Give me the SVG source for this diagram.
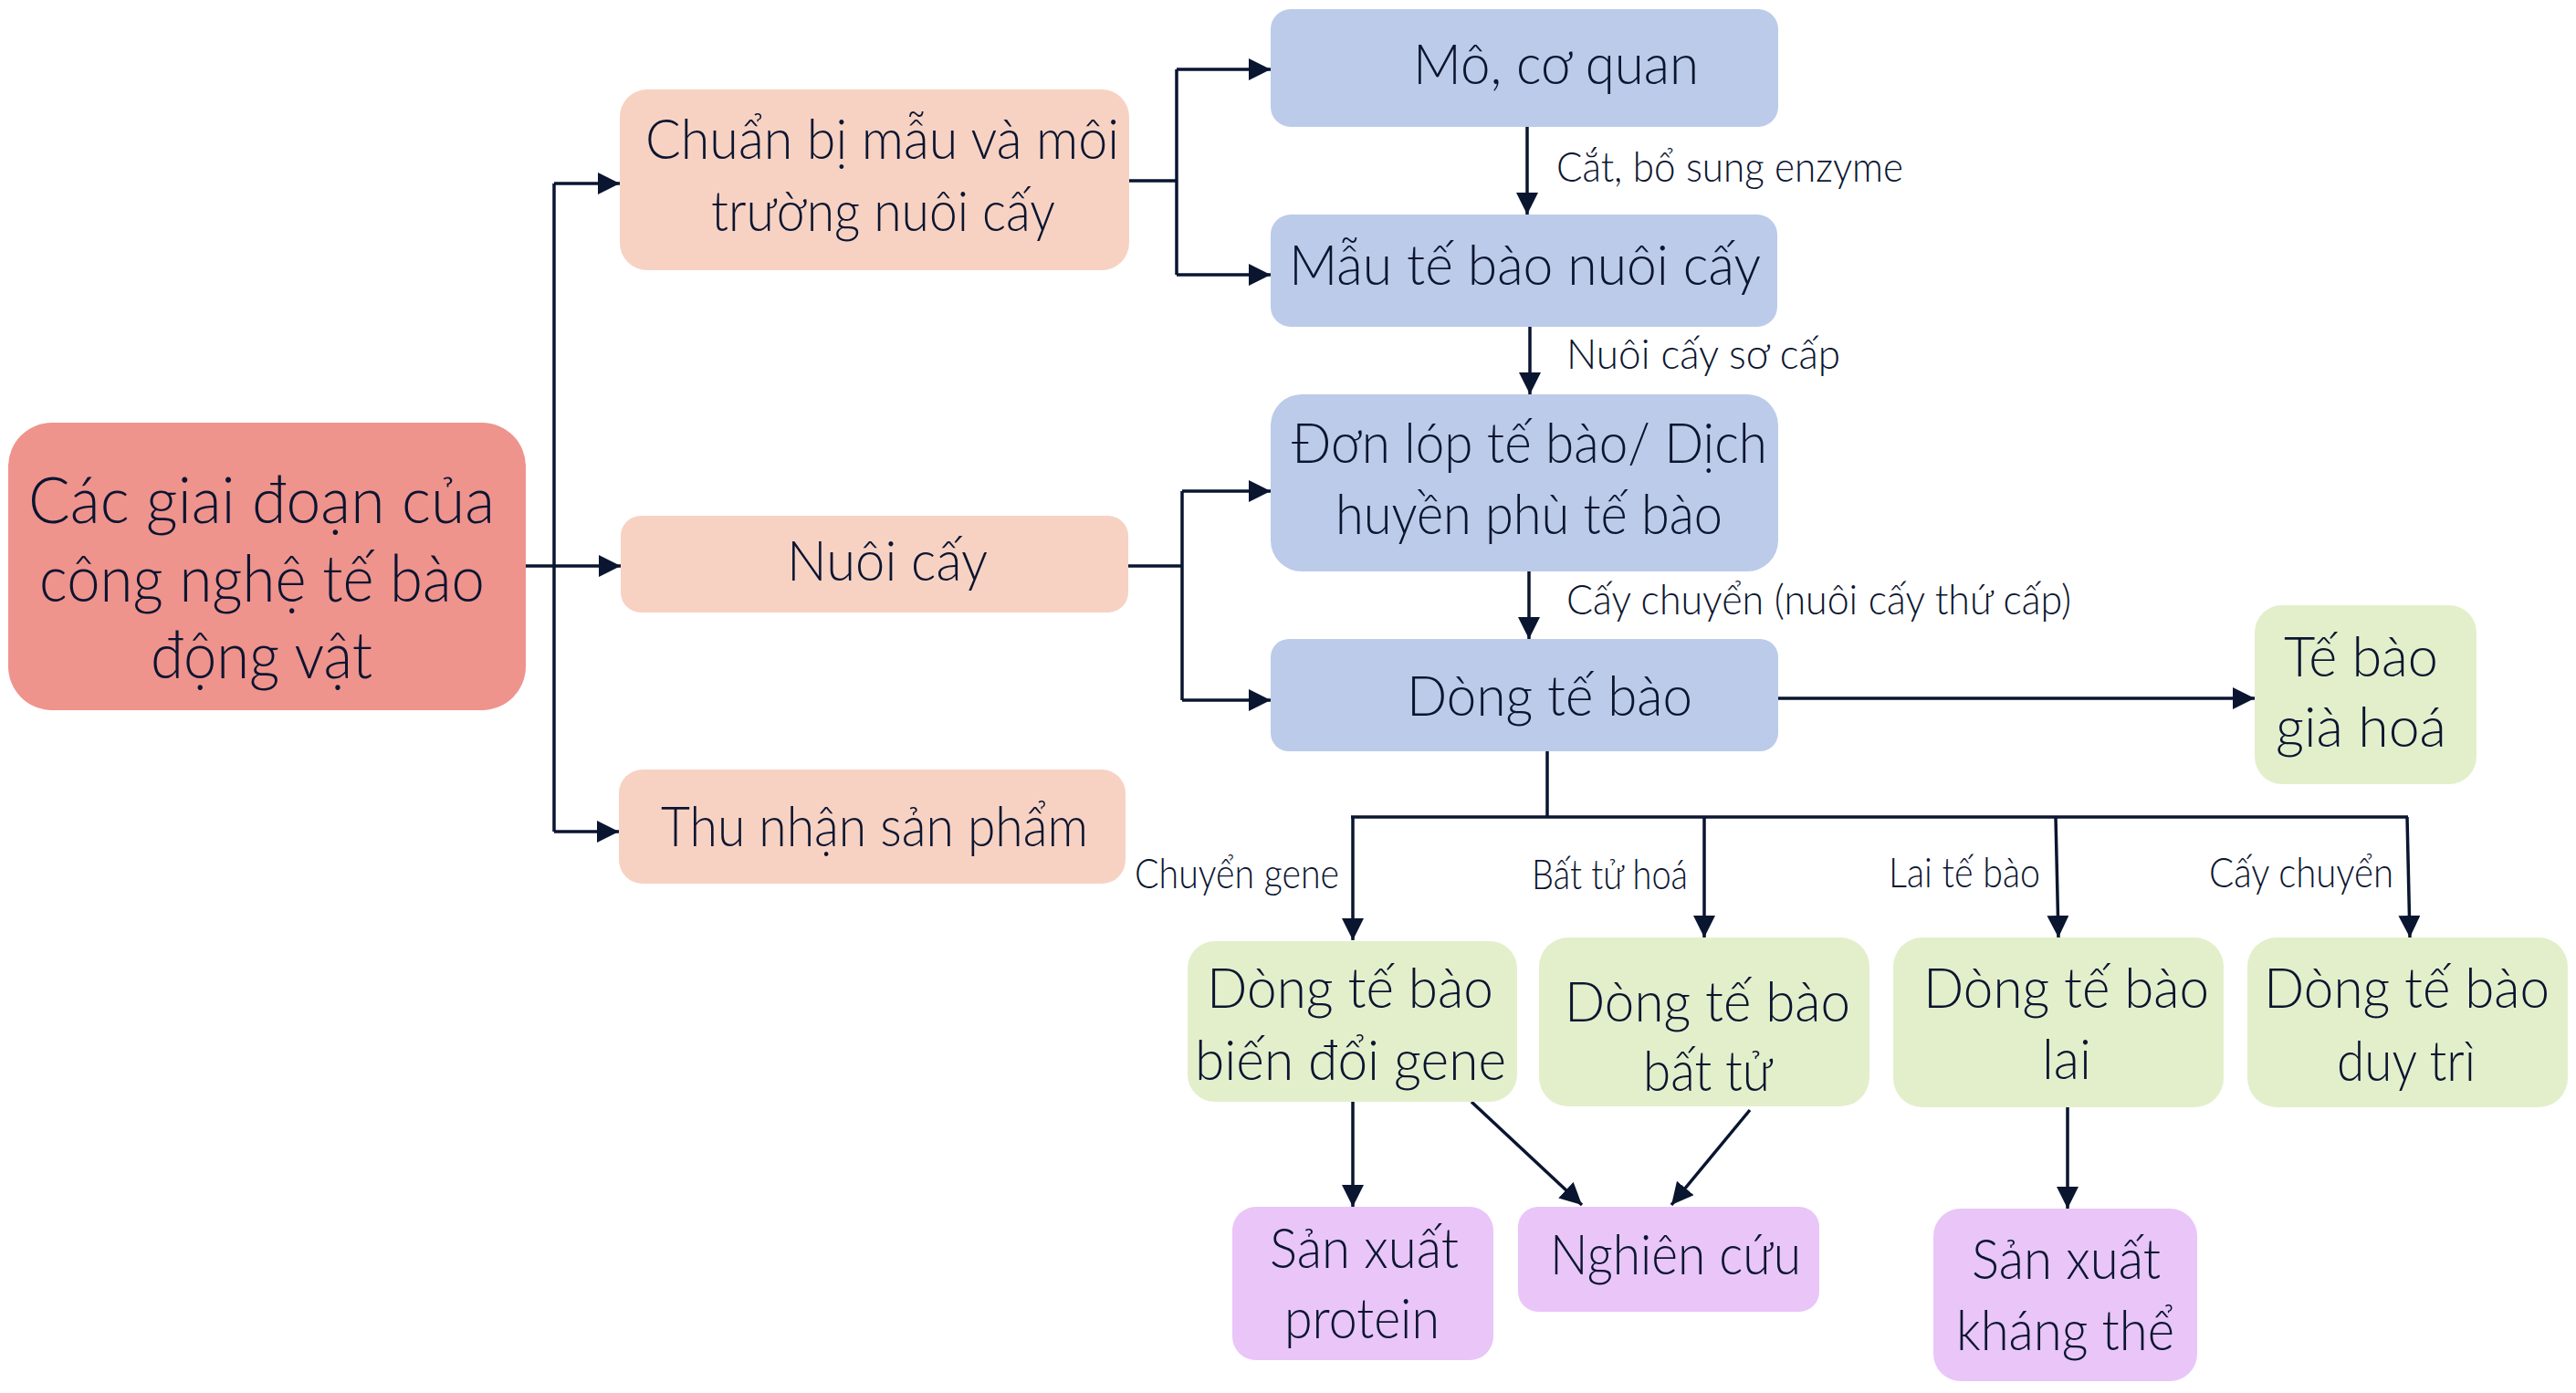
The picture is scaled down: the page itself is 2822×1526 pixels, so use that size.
<svg xmlns="http://www.w3.org/2000/svg" width="2822" height="1526" viewBox="0 0 2822 1526">
<defs>
<style>
text{font-family:Lato,"Liberation Sans","Noto Sans",sans-serif;fill:#0B1530;font-weight:300;}
.t{font-size:62px;}
.tm{font-size:70px;}
.lb{font-size:46px;}
.main{fill:#EF938D;}
.pk{fill:#F7D2C3;}
.bl{fill:#BBCBE9;}
.gr{fill:#E3EFCB;}
.pu{fill:#E9C5F8;}
.c line,.c path{stroke:#0A1530;stroke-width:3.5;fill:none;}
</style>
<marker id="ah" markerUnits="userSpaceOnUse" markerWidth="26" markerHeight="26" refX="24" refY="12" orient="auto">
<path d="M0,0 L24,12 L0,24 z" fill="#0A1530"/>
</marker>
</defs>
<rect width="2822" height="1526" fill="#FFFFFF"/>
<g class="c">
<line x1="576" y1="620" x2="680" y2="620" marker-end="url(#ah)"/>
<path d="M607,201 V911"/>
<line x1="607" y1="201" x2="679" y2="201" marker-end="url(#ah)"/>
<line x1="607" y1="911" x2="678" y2="911" marker-end="url(#ah)"/>
<path d="M1237,198 H1289"/>
<path d="M1289,76 V301"/>
<line x1="1289" y1="76" x2="1392" y2="76" marker-end="url(#ah)"/>
<line x1="1289" y1="301" x2="1392" y2="301" marker-end="url(#ah)"/>
<path d="M1236,620 H1295"/>
<path d="M1295,538 V767"/>
<line x1="1295" y1="538" x2="1392" y2="538" marker-end="url(#ah)"/>
<line x1="1295" y1="767" x2="1392" y2="767" marker-end="url(#ah)"/>
<line x1="1673" y1="139" x2="1673" y2="235" marker-end="url(#ah)"/>
<line x1="1676" y1="358" x2="1676" y2="432" marker-end="url(#ah)"/>
<line x1="1675" y1="626" x2="1675" y2="700" marker-end="url(#ah)"/>
<line x1="1948" y1="765" x2="2470" y2="765" marker-end="url(#ah)"/>
<path d="M1695,823 V895"/>
<path d="M1480,895 H2638"/>
<line x1="1482" y1="895" x2="1482" y2="1030" marker-end="url(#ah)"/>
<line x1="1867" y1="895" x2="1867" y2="1027" marker-end="url(#ah)"/>
<line x1="2252" y1="895" x2="2255" y2="1027" marker-end="url(#ah)"/>
<line x1="2637" y1="895" x2="2640" y2="1027" marker-end="url(#ah)"/>
<line x1="1482" y1="1207" x2="1482" y2="1322" marker-end="url(#ah)"/>
<line x1="1612" y1="1207" x2="1733" y2="1320" marker-end="url(#ah)"/>
<line x1="1917" y1="1216" x2="1831" y2="1320" marker-end="url(#ah)"/>
<line x1="2265" y1="1213" x2="2265" y2="1324" marker-end="url(#ah)"/>
</g>
<g id="labels">
<text class="lb" x="1705" y="199" textLength="380" lengthAdjust="spacingAndGlyphs">Cắt, bổ sung enzyme</text>
<text class="lb" x="1716" y="404" textLength="300" lengthAdjust="spacingAndGlyphs">Nuôi cấy sơ cấp</text>
<text class="lb" x="1716" y="673" textLength="553" lengthAdjust="spacingAndGlyphs">Cấy chuyển (nuôi cấy thứ cấp)</text>
<text class="lb" x="1243" y="973" textLength="224" lengthAdjust="spacingAndGlyphs">Chuyển gene</text>
<text class="lb" x="1678" y="974" textLength="171" lengthAdjust="spacingAndGlyphs">Bất tử hoá</text>
<text class="lb" x="2069" y="972" textLength="166" lengthAdjust="spacingAndGlyphs">Lai tế bào</text>
<text class="lb" x="2420" y="972" textLength="202" lengthAdjust="spacingAndGlyphs">Cấy chuyển</text>
</g>
<g id="n-main">
<rect class="main" x="9" y="463" width="567" height="315" rx="48"/>
<text class="tm" x="31" y="573" textLength="511" lengthAdjust="spacingAndGlyphs">Các giai đoạn của</text>
<text class="tm" x="43" y="659" textLength="488" lengthAdjust="spacingAndGlyphs">công nghệ tế bào</text>
<text class="tm" x="165" y="743" textLength="243" lengthAdjust="spacingAndGlyphs">động vật</text>
</g>
<g id="n-chuanbi">
<rect class="pk" x="679" y="98" width="558" height="198" rx="30"/>
<text class="t" x="707" y="174" textLength="519" lengthAdjust="spacingAndGlyphs">Chuẩn bị mẫu và môi</text>
<text class="t" x="779" y="253" textLength="377" lengthAdjust="spacingAndGlyphs">trường nuôi cấy</text>
</g>
<g id="n-nuoicay">
<rect class="pk" x="680" y="565" width="556" height="106" rx="22"/>
<text class="t" x="862" y="636" textLength="220" lengthAdjust="spacingAndGlyphs">Nuôi cấy</text>
</g>
<g id="n-thunhan">
<rect class="pk" x="678" y="843" width="555" height="125" rx="26"/>
<text class="t" x="724" y="927" textLength="468" lengthAdjust="spacingAndGlyphs">Thu nhận sản phẩm</text>
</g>
<g id="n-mo">
<rect class="bl" x="1392" y="10" width="556" height="129" rx="22"/>
<text class="t" x="1548" y="92" textLength="313" lengthAdjust="spacingAndGlyphs">Mô, cơ quan</text>
</g>
<g id="n-mau">
<rect class="bl" x="1392" y="235" width="555" height="123" rx="22"/>
<text class="t" x="1412" y="312" textLength="517" lengthAdjust="spacingAndGlyphs">Mẫu tế bào nuôi cấy</text>
</g>
<g id="n-donlop">
<rect class="bl" x="1392" y="432" width="556" height="194" rx="34"/>
<text class="t" x="1415" y="507" textLength="521" lengthAdjust="spacingAndGlyphs">Đơn lóp tế bào/ Dịch</text>
<text class="t" x="1463" y="585" textLength="424" lengthAdjust="spacingAndGlyphs">huyền phù tế bào</text>
</g>
<g id="n-dong">
<rect class="bl" x="1392" y="700" width="556" height="123" rx="20"/>
<text class="t" x="1541" y="784" textLength="313" lengthAdjust="spacingAndGlyphs">Dòng tế bào</text>
</g>
<g id="n-giahoa">
<rect class="gr" x="2470" y="663" width="243" height="196" rx="30"/>
<text class="t" x="2502" y="741" textLength="169" lengthAdjust="spacingAndGlyphs">Tế bào</text>
<text class="t" x="2493" y="818" textLength="187" lengthAdjust="spacingAndGlyphs">già hoá</text>
</g>
<g id="n-biendoi">
<rect class="gr" x="1301" y="1031" width="361" height="176" rx="30"/>
<text class="t" x="1322" y="1104" textLength="314" lengthAdjust="spacingAndGlyphs">Dòng tế bào</text>
<text class="t" x="1309" y="1183" textLength="341" lengthAdjust="spacingAndGlyphs">biến đổi gene</text>
</g>
<g id="n-battu">
<rect class="gr" x="1686" y="1027" width="362" height="185" rx="32"/>
<text class="t" x="1714" y="1119" textLength="313" lengthAdjust="spacingAndGlyphs">Dòng tế bào</text>
<text class="t" x="1800" y="1195" textLength="142" lengthAdjust="spacingAndGlyphs">bất tử</text>
</g>
<g id="n-lai">
<rect class="gr" x="2074" y="1027" width="362" height="186" rx="32"/>
<text class="t" x="2107" y="1104" textLength="313" lengthAdjust="spacingAndGlyphs">Dòng tế bào</text>
<text class="t" x="2237" y="1182" textLength="54" lengthAdjust="spacingAndGlyphs">lai</text>
</g>
<g id="n-duytri">
<rect class="gr" x="2462" y="1027" width="351" height="186" rx="32"/>
<text class="t" x="2480" y="1104" textLength="313" lengthAdjust="spacingAndGlyphs">Dòng tế bào</text>
<text class="t" x="2560" y="1184" textLength="152" lengthAdjust="spacingAndGlyphs">duy trì</text>
</g>
<g id="n-protein">
<rect class="pu" x="1350" y="1322" width="286" height="168" rx="26"/>
<text class="t" x="1391" y="1389" textLength="207" lengthAdjust="spacingAndGlyphs">Sản xuất</text>
<text class="t" x="1407" y="1466" textLength="170" lengthAdjust="spacingAndGlyphs">protein</text>
</g>
<g id="n-nghiencuu">
<rect class="pu" x="1663" y="1322" width="330" height="115" rx="22"/>
<text class="t" x="1698" y="1396" textLength="275" lengthAdjust="spacingAndGlyphs">Nghiên cứu</text>
</g>
<g id="n-khangthe">
<rect class="pu" x="2118" y="1324" width="289" height="189" rx="30"/>
<text class="t" x="2160" y="1401" textLength="207" lengthAdjust="spacingAndGlyphs">Sản xuất</text>
<text class="t" x="2143" y="1479" textLength="239" lengthAdjust="spacingAndGlyphs">kháng thể</text>
</g>
</svg>
